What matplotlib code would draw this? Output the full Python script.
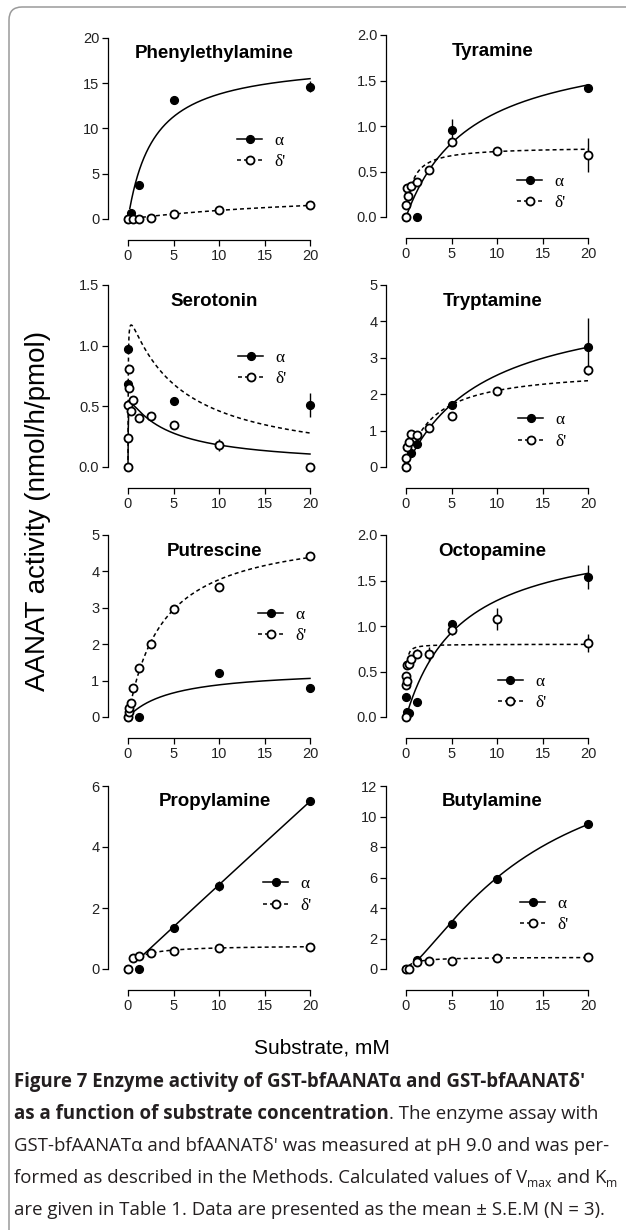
import numpy as np
import matplotlib.pyplot as plt
from matplotlib.lines import Line2D
from matplotlib.patches import FancyBboxPatch

W, H = 626, 1230

# ---- data: substrate (mM) and activity (nmol/h/pmol) ----
# alpha = filled circles, delta' = open circles, err = S.E.M.
pea_a_x = [0, 0.3, 1.25, 5, 20]
pea_a_y = [0, 0.7, 3.8, 13.2, 14.6]
pea_a_err = [0, 0, 0, 0, 0.6]
pea_d_x = [0, 0.6, 1.25, 2.5, 5, 10, 20]
pea_d_y = [0, 0, 0.05, 0.15, 0.55, 0.95, 1.5]
pea_d_err = [0, 0, 0, 0, 0, 0, 0]

tyr_a_x = [0, 1.25, 5, 20]
tyr_a_y = [0, 0, 0.96, 1.42]
tyr_a_err = [0, 0, 0.12, 0]
tyr_d_x = [0, 0.04, 0.08, 0.25, 0.55, 1.25, 2.5, 5, 10, 20]
tyr_d_y = [0, 0.13, 0.32, 0.23, 0.34, 0.39, 0.52, 0.82, 0.72, 0.68]
tyr_d_err = [0, 0, 0, 0, 0, 0, 0, 0, 0, 0.19]

ser_a_x = [0, 0.04, 5, 20]
ser_a_y = [0.97, 0.68, 0.54, 0.51]
ser_a_err = [0, 0, 0, 0.1]
ser_d_x = [0, 0.02, 0.04, 0.06, 0.08, 0.3, 0.6, 1.25, 2.5, 5, 10, 20]
ser_d_y = [0, 0.24, 0.51, 0.65, 0.81, 0.46, 0.55, 0.40, 0.42, 0.35, 0.18, 0.0]
ser_d_err = [0, 0, 0, 0, 0, 0, 0, 0, 0, 0, 0.05, 0]

try_a_x = [0, 0.6, 1.25, 5, 20]
try_a_y = [0, 0.38, 0.63, 1.71, 3.31]
try_a_err = [0, 0, 0, 0, 0.78]
try_d_x = [0, 0.04, 0.15, 0.3, 0.6, 1.25, 2.5, 5, 10, 20]
try_d_y = [0, 0.25, 0.54, 0.70, 0.91, 0.87, 1.07, 1.39, 2.10, 2.67]
try_d_err = [0, 0, 0, 0, 0, 0, 0, 0, 0, 0]

put_a_x = [0, 1.25, 10, 20]
put_a_y = [0, 0, 1.22, 0.81]
put_a_err = [0, 0, 0, 0]
put_d_x = [0, 0.08, 0.15, 0.3, 0.6, 1.25, 2.5, 5, 10, 20]
put_d_y = [0, 0.15, 0.25, 0.38, 0.81, 1.34, 2.01, 2.96, 3.56, 4.41]
put_d_err = [0, 0, 0, 0, 0, 0, 0, 0, 0, 0]

oct_a_x = [0, 0.15, 0.3, 1.25, 5, 20]
oct_a_y = [0.22, 0.06, 0.04, 0.165, 1.02, 1.54]
oct_a_err = [0, 0, 0, 0, 0.05, 0.13]
oct_d_x = [0, 0.02, 0.04, 0.08, 0.1, 0.3, 0.6, 1.25, 2.5, 5, 10, 20]
oct_d_y = [0, 0.355, 0.45, 0.40, 0.57, 0.585, 0.64, 0.695, 0.69, 0.96, 1.08, 0.81]
oct_d_err = [0, 0, 0, 0, 0, 0, 0, 0.05, 0.08, 0.06, 0.12, 0.1]

pro_a_x = [0, 1.25, 5, 10, 20]
pro_a_y = [0, 0, 1.36, 2.72, 5.51]
pro_a_err = [0, 0, 0, 0.15, 0]
pro_d_x = [0, 0.6, 1.25, 2.5, 5, 10, 20]
pro_d_y = [0, 0.35, 0.44, 0.51, 0.60, 0.70, 0.73]
pro_d_err = [0, 0, 0, 0, 0, 0, 0]

but_a_x = [0, 1.25, 5, 10, 20]
but_a_y = [0, 0.59, 2.92, 5.93, 9.49]
but_a_err = [0, 0, 0, 0, 0]
but_d_x = [0, 0.3, 1.25, 2.5, 5, 10, 20]
but_d_y = [0, 0.0, 0.48, 0.55, 0.55, 0.70, 0.76]
but_d_err = [0, 0, 0, 0, 0, 0, 0]

# fitted kinetic curves: (Vmax, Km, hill n, Ki substrate inhibition, first S drawn)
INF = np.inf
pea_a_fit = (17.7, 2.83, 1.0, INF, 0.2)
pea_d_fit = (3.53, 27.1, 1.0, INF, 0.0)
tyr_a_fit = (1.97, 7.15, 1.0, INF, 0.05)
tyr_d_fit = (0.772, 0.73, 1.0, INF, 0.25)
ser_a_fit = (0.605, 0.0285, 1.0, 4.3, 0.0)
ser_d_fit = (1.323, 0.0228, 1.0, 5.37, 0.0)
try_a_fit = (4.73, 8.75, 1.0, INF, 0.25)
try_d_fit = (2.72, 2.95, 1.0, INF, 1.3)
put_a_fit = (1.325, 5.0, 1.0, INF, 0.3)
put_d_fit = (5.23, 3.86, 1.0, INF, 0.15)
oct_a_fit = (2.06, 6.09, 1.0, INF, 0.15)
oct_d_fit = (0.8, 0.05, 1.0, INF, 0.3)
pro_a_fit = (555.0, 2000.0, 1.0, INF, 1.5)
pro_d_fit = (0.776, 1.25, 1.0, INF, 0.6)
but_a_fit = (15.2, 13.75, 1.35, INF, 1.0)
but_d_fit = (0.78, 0.8, 1.0, INF, 0.3)

titles = ['Phenylethylamine', 'Tyramine', 'Serotonin', 'Tryptamine',
          'Putrescine', 'Octopamine', 'Propylamine', 'Butylamine']
y_max = [20, 2.0, 1.5, 5, 5, 2.0, 6, 12]
y_step = [5, 0.5, 0.5, 1, 1, 0.5, 2, 2]
y_fmt = ['%d', '%.1f', '%.1f', '%d', '%d', '%.1f', '%d', '%d']
x_ticks = [0, 5, 10, 15, 20]

panels = [
    (pea_a_x, pea_a_y, pea_a_err, pea_d_x, pea_d_y, pea_d_err, pea_a_fit, pea_d_fit),
    (tyr_a_x, tyr_a_y, tyr_a_err, tyr_d_x, tyr_d_y, tyr_d_err, tyr_a_fit, tyr_d_fit),
    (ser_a_x, ser_a_y, ser_a_err, ser_d_x, ser_d_y, ser_d_err, ser_a_fit, ser_d_fit),
    (try_a_x, try_a_y, try_a_err, try_d_x, try_d_y, try_d_err, try_a_fit, try_d_fit),
    (put_a_x, put_a_y, put_a_err, put_d_x, put_d_y, put_d_err, put_a_fit, put_d_fit),
    (oct_a_x, oct_a_y, oct_a_err, oct_d_x, oct_d_y, oct_d_err, oct_a_fit, oct_d_fit),
    (pro_a_x, pro_a_y, pro_a_err, pro_d_x, pro_d_y, pro_d_err, pro_a_fit, pro_d_fit),
    (but_a_x, but_a_y, but_a_err, but_d_x, but_d_y, but_d_err, but_a_fit, but_d_fit),
]

# layout in pixels
col_x = [128, 406]
ax_w = 182
row_tb = [[(38, 219), (35, 217)], [(285, 467), (285, 467)],
          [(535, 717), (535, 717)], [(786, 969), (786, 969)]]
# legend: left edge of handle, alpha row, delta row (axes fractions)
leg_pos = [(0.60, 0.436, 0.31), (0.61, 0.19, 0.077), (0.604, 0.604, 0.478),
           (0.615, 0.258, 0.137), (0.714, 0.571, 0.434), (0.505, 0.192, 0.077),
           (0.742, 0.47, 0.34), (0.626, 0.36, 0.235)]

SANS = 'Liberation Sans'
SERIF = 'Liberation Serif'
DASH = (0, (2.6, 2.0))


def rate(s, fit):
    vmax, km, n, ki, _ = fit
    return vmax * s ** n / (km ** n + s ** n * (1 + s / ki))


fig = plt.figure(figsize=(W / 100, H / 100), dpi=100)
fig.patch.set_facecolor('white')

frame = FancyBboxPatch((0.09, -1.0), 10, (H - 7) / 100 + 1.0,
                       boxstyle='round,pad=0,rounding_size=0.13',
                       transform=fig.dpi_scale_trans, fc='none', ec='#9a9a9a', lw=1.1)
fig.add_artist(frame)

for i, (ax_, ay_, ae_, dx_, dy_, de_, afit, dfit) in enumerate(panels):
    r, c = divmod(i, 2)
    top, bot = row_tb[r][c]
    ax = fig.add_axes([col_x[c] / W, 1 - bot / H, ax_w / W, (bot - top) / H])
    ax.set_xlim(0, 20)
    ax.set_ylim(0, y_max[i])

    s = np.linspace(afit[4], 20, 2000)
    ax.plot(s, rate(s, afit), color='k', lw=1.1, clip_on=False, zorder=2)
    s = np.linspace(dfit[4], 20, 2000)
    ax.plot(s, rate(s, dfit), color='k', lw=1.1, ls=DASH, clip_on=False, zorder=2)

    for xs, ys, es in ((ax_, ay_, ae_), (dx_, dy_, de_)):
        xs, ys, es = np.array(xs), np.array(ys), np.array(es)
        m = es > 0
        ax.vlines(xs[m], ys[m] - es[m], ys[m] + es[m], color='k', lw=1.0, clip_on=False, zorder=3)
    ax.plot(ax_, ay_, 'o', color='k', ms=5.6, clip_on=False, zorder=4)
    ax.plot(dx_, dy_, 'o', mfc='white', mec='k', mew=1.3, ms=5.8, clip_on=False, zorder=5)

    for side in ('top', 'right'):
        ax.spines[side].set_visible(False)
    ax.spines['left'].set_position(('outward', 20 * 0.72))
    ax.spines['bottom'].set_position(('outward', 21 * 0.72))
    for side in ('left', 'bottom'):
        ax.spines[side].set_linewidth(0.9)
    ax.tick_params(direction='out', length=4.3, width=0.9, labelsize=10.5,
                   labelcolor='#222222', pad=2)
    ax.set_xticks(x_ticks)
    ax.set_xticklabels([str(t) for t in x_ticks], family=SANS)
    yt = np.arange(0, y_max[i] + 1e-9, y_step[i])
    ax.set_yticks(yt)
    ax.set_yticklabels([y_fmt[i] % t for t in yt], family=SANS)
    ax.patch.set_alpha(0)

    ax.text(0.475, 1 - 16 / (bot - top), titles[i], transform=ax.transAxes,
            ha='center', va='center', fontsize=13.5, fontweight='bold', family=SANS)

    h_a = Line2D([], [], color='k', lw=1.1, marker='o', ms=5.6)
    h_d = Line2D([], [], color='k', lw=1.1, ls=DASH, marker='o', mfc='white', mec='k', mew=1.3, ms=5.8)
    lx, la, ld = leg_pos[i]
    ax.legend([h_a, h_d], ['\u03b1', "\u03b4'"], loc='center left',
              bbox_to_anchor=(lx, (la + ld) / 2), frameon=False, numpoints=1,
              handlelength=1.45, handletextpad=0.7, labelspacing=0.3,
              borderpad=0, borderaxespad=0, prop={'family': SERIF, 'size': 12.5})

fig.text(38 / W, 1 - 511 / H, 'AANAT activity (nmol/h/pmol)', rotation=90,
         ha='center', va='center', fontsize=20, family=SANS)
fig.text(322 / W, 1 - 1048 / H, 'Substrate, mM', ha='center', va='center',
         fontsize=15, family=SANS)

# ---- caption ----
CAP = 'Open Sans'
renderer = fig.canvas.get_renderer()
probe = fig.text(0, 0, "GST-bfAANAT\u03b1 and bfAANAT\u03b4' was measured at pH 9.0 and was per-",
                 fontsize=10, family=CAP)
cap_size = 10 * 597 / probe.get_window_extent(renderer).width
probe.remove()


def segments(y_base, parts, x0=14):
    x = x0
    for txt, weight, scale, dy in parts:
        t = fig.text(x / W, 1 - (y_base + dy) / H, txt, fontsize=cap_size * scale,
                     fontweight=weight, family=CAP, ha='left', va='baseline', color='#231f20')
        x = t.get_window_extent(renderer).x1


base = [1087, 1119, 1151, 1183, 1215]
segments(base[0], [("Figure 7 Enzyme activity of GST-bfAANAT\u03b1 and GST-bfAANAT\u03b4'", 'bold', 1, 0)])
segments(base[1], [("as a function of substrate concentration", 'bold', 1, 0),
                   (". The enzyme assay with", 'normal', 1, 0)])
segments(base[2], [("GST-bfAANAT\u03b1 and bfAANAT\u03b4' was measured at pH 9.0 and was per-", 'normal', 1, 0)])
segments(base[3], [("formed as described in the Methods. Calculated values of V", 'normal', 1, 0),
                   ("max", 'normal', 0.65, 4), (" and K", 'normal', 1, 0), ("m", 'normal', 0.65, 4)])
segments(base[4], [("are given in Table 1. Data are presented as the mean \u00b1 S.E.M (N = 3).", 'normal', 1, 0)])

fig.savefig('out.png', dpi=100)
